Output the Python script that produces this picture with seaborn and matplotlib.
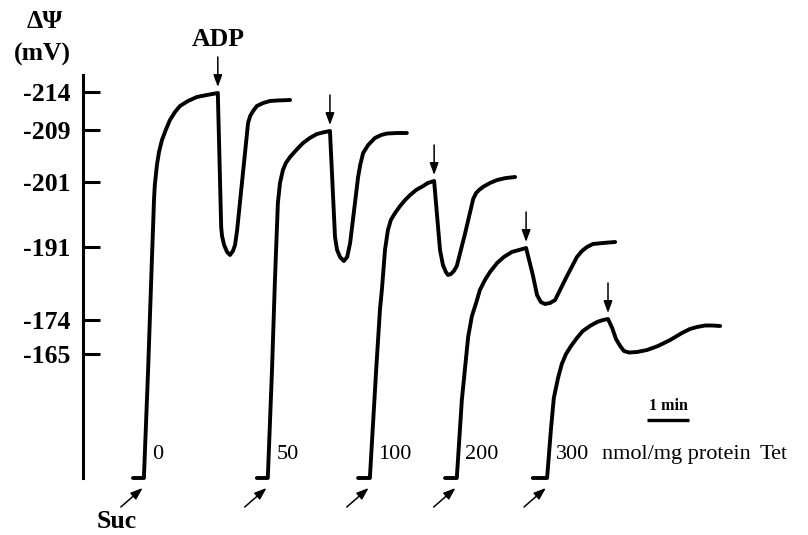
import numpy as np
import pandas as pd
import matplotlib
matplotlib.use("Agg")
import matplotlib.pyplot as plt
import seaborn as sns

# ---- data (time in min, signal in trace units) ----
conc_labels = ["0", "50", "100", "200", "300"]

t0 = [1.19, 1.45, 1.55, 1.64, 1.67, 1.69, 1.71, 1.76, 1.81, 1.88, 1.98, 2.07,
      2.19, 2.31, 2.50, 2.71, 2.95, 3.21,
      3.29, 3.31, 3.36, 3.43, 3.50, 3.57, 3.62, 3.67, 3.93, 3.98, 4.05, 4.14,
      4.29, 4.45, 4.62, 4.93]
s0 = [0.0, 0.0, 10.8, 21.8, 25.3, 27.8, 29.3, 31.3, 32.6, 33.8, 34.9, 35.8,
      36.6, 37.2, 37.7, 38.1, 38.3, 38.5,
      25.1, 24.2, 23.3, 22.6, 22.3, 22.7, 23.3, 24.8, 35.5, 36.2, 36.7, 37.2,
      37.5, 37.7, 37.75, 37.8]

t1 = [4.14, 4.40, 4.50, 4.57, 4.64, 4.69, 4.76, 4.83, 4.93, 5.10, 5.24, 5.40,
      5.57, 5.71, 5.88,
      6.00, 6.05, 6.12, 6.21, 6.29, 6.36, 6.55, 6.60, 6.67, 6.79, 6.95, 7.10,
      7.24, 7.48, 7.71]
s1 = [0.0, 0.0, 10.8, 19.8, 27.5, 29.5, 30.8, 31.5, 32.1, 32.9, 33.5, 34.0,
      34.4, 34.55, 34.7,
      24.1, 22.8, 22.1, 21.7, 22.1, 23.5, 30.1, 31.3, 32.5, 33.3, 34.0, 34.3,
      34.45, 34.5, 34.5]

t2 = [6.55, 6.83, 6.98, 7.07, 7.12, 7.19, 7.26, 7.33, 7.43, 7.55, 7.67, 7.79,
      7.93, 8.10, 8.21, 8.36,
      8.50, 8.57, 8.64, 8.69, 8.76, 8.83, 8.90, 9.10, 9.29, 9.36, 9.43, 9.52,
      9.69, 9.86, 10.07, 10.29]
s2 = [0.0, 0.0, 10.8, 16.8, 19.0, 22.8, 24.8, 25.8, 26.5, 27.2, 27.8, 28.3,
      28.8, 29.2, 29.5, 29.7,
      22.8, 21.3, 20.6, 20.3, 20.4, 20.7, 21.2, 24.5, 27.9, 28.5, 28.8, 29.1,
      29.5, 29.8, 30.0, 30.1]

t3 = [8.62, 8.90, 9.02, 9.17, 9.26, 9.36, 9.45, 9.57, 9.69, 9.86, 10.02,
      10.21, 10.38, 10.55,
      10.71, 10.81, 10.90, 11.00, 11.12, 11.24, 11.50, 11.76, 11.88, 12.00,
      12.14, 12.38, 12.67]
s3 = [0.0, 0.0, 7.8, 14.1, 16.2, 17.5, 18.8, 19.8, 20.6, 21.5, 22.1,
      22.6, 22.8, 23.0,
      20.3, 18.3, 17.6, 17.4, 17.5, 17.8, 20.0, 22.1, 22.7, 23.1,
      23.4, 23.5, 23.6]

t4 = [10.71, 11.05, 11.14, 11.21, 11.31, 11.40, 11.50, 11.62, 11.76, 11.90,
      12.07, 12.24, 12.38, 12.50,
      12.60, 12.69, 12.79, 12.88, 13.00, 13.19, 13.43, 13.69, 13.98, 14.26,
      14.45, 14.62, 14.81, 14.98, 15.17]
s4 = [0.0, 0.0, 4.8, 8.0, 10.0, 11.4, 12.4, 13.2, 14.0, 14.7,
      15.2, 15.6, 15.8, 15.9,
      15.0, 13.9, 13.2, 12.7, 12.55, 12.6, 12.8, 13.2, 13.8, 14.5,
      14.9, 15.1, 15.25, 15.25, 15.2]

adp_times = [3.21, 5.88, 8.36, 10.55, 12.50]

ytick_pos = [38.6, 34.8, 29.6, 23.1, 15.8, 12.4]
ytick_labels = ["-214", "-209", "-201", "-191", "-174", "-165"]

times = [t0, t1, t2, t3, t4]
signals = [s0, s1, s2, s3, s4]

# ---- styling ----
sns.set_style("white")
plt.rcParams["font.family"] = ["Liberation Serif", "DejaVu Serif"]
plt.rcParams["text.color"] = "black"
plt.rcParams["ytick.color"] = "black"
plt.rcParams["ytick.labelcolor"] = "black"

df = pd.concat(
    [pd.DataFrame({"t": t, "s": s, "conc": lab})
     for lab, t, s in zip(conc_labels, times, signals)],
    ignore_index=True)

fig = plt.figure(figsize=(8.08, 5.35), dpi=100)
ax = fig.add_axes([83 / 808, 0, 725 / 808, 1])

sns.lineplot(data=df, x="t", y="s", hue="conc", hue_order=conc_labels,
             palette=["black"] * len(conc_labels), estimator=None, sort=False,
             lw=2.8, legend=False, ax=ax, solid_joinstyle="round")

ax.set_xlim(0, 725 / 42)
ax.set_ylim(-5.7, 47.8)
for sp in ["top", "right", "bottom"]:
    ax.spines[sp].set_visible(False)
ax.spines["left"].set_linewidth(2.2)
ax.spines["left"].set_color("black")
ax.spines["left"].set_bounds(0, 40.3)
ax.set_xticks([])
ax.set_yticks(ytick_pos, ytick_labels)
ax.tick_params(axis="y", left=True, direction="in", length=12.5, width=2.2,
               pad=9, labelsize=18.5, colors="black")
for lbl in ax.get_yticklabels():
    lbl.set_fontweight("bold")
ax.set_xlabel("")
ax.set_ylabel("")

BIG = 18.5
# axis title
ax.text(-0.905, 45.0, "ΔΨ", ha="center", va="baseline", fontsize=BIG,
        fontweight="bold", color="black")
ax.text(-0.976, 41.7, "(mV)", ha="center", va="baseline", fontsize=BIG,
        fontweight="bold", color="black")

arrow_style = dict(arrowstyle="-|>,head_length=0.6,head_width=0.22",
                   color="black", lw=1.1, mutation_scale=12,
                   shrinkA=0, shrinkB=0)

# ADP arrows
for ta, t, s in zip(adp_times, times, signals):
    sa = float(np.interp(ta, t, s))
    ax.annotate("", xy=(ta, sa + 0.6), xytext=(ta, sa + 3.6),
                arrowprops=arrow_style)
ax.text(adp_times[0], 43.2, "ADP", ha="center", va="baseline", fontsize=BIG,
        fontweight="bold", color="black")

# Suc arrows and concentration labels
for lab, t in zip(conc_labels, times):
    tb = t[1]
    ax.annotate("", xy=(tb - 0.03, -1.0), xytext=(tb - 0.55, -2.9),
                arrowprops=arrow_style)
    ax.text(tb + 0.2, 1.9, lab, ha="left", va="baseline", fontsize=16,
            color="black")
ax.text(0.81, -5.0, "Suc", ha="center", va="baseline", fontsize=BIG,
        fontweight="bold", color="black")
ax.text(12.36, 1.9, "nmol/mg protein", ha="left", va="baseline", fontsize=16,
        color="black")
ax.text(16.12, 1.9, "Tet", ha="left", va="baseline", fontsize=16,
        color="black")

# 1-min scale bar
bar_start, bar_len = 13.43, 1.0
ax.hlines(5.8, bar_start, bar_start + bar_len, colors="black", lw=2.4)
ax.text(bar_start + bar_len / 2, 6.8, "1 min", ha="center", va="baseline",
        fontsize=11.5, fontweight="bold", color="black")

fig.savefig("out.png", dpi=100)
